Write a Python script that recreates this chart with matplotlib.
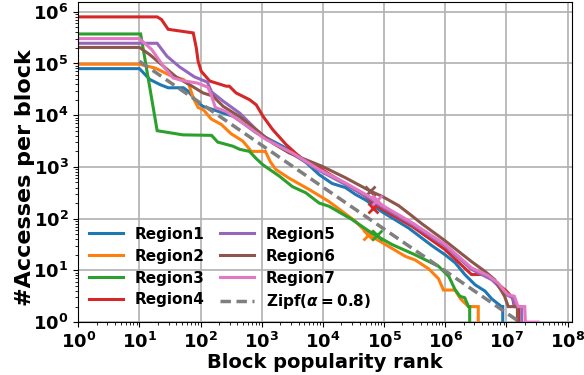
import numpy as np
import matplotlib
matplotlib.use("Agg")
import matplotlib.pyplot as plt

plt.rcParams['font.family'] = ['DejaVu Sans']
plt.rcParams['font.weight'] = 'bold'

# ---- data (log10 rank / log10 count) ----
r1_lr = [0, 1.0, 1.17, 1.34, 1.47, 1.72, 1.80, 1.93, 2.04, 2.20, 2.37, 2.53, 2.69, 2.91, 3.13, 3.34, 3.61, 3.94, 4.15, 4.37, 4.53, 4.70, 4.97, 5.40, 5.78, 6.00, 6.16, 6.32, 6.49, 6.65, 6.76, 6.92, 6.94, 6.94]
r1_lv = [4.90, 4.90, 4.69, 4.59, 4.53, 4.53, 4.46, 4.27, 4.17, 4.11, 4.04, 3.98, 3.85, 3.66, 3.53, 3.40, 3.21, 2.85, 2.68, 2.60, 2.47, 2.36, 2.13, 1.82, 1.48, 1.30, 1.15, 0.92, 0.72, 0.60, 0.45, 0.30, 0.30, 0.0]

r2_lr = [0, 1.0, 1.26, 1.50, 1.72, 1.81, 1.88, 1.96, 2.05, 2.17, 2.34, 2.50, 2.69, 2.83, 3.06, 3.14, 3.23, 3.45, 3.78, 4.10, 4.53, 4.75, 5.08, 5.35, 5.51, 5.73, 5.89, 5.97, 6.16, 6.25, 6.38, 6.54, 6.54]
r2_lv = [4.985, 4.985, 4.91, 4.77, 4.69, 4.59, 4.33, 4.15, 4.10, 3.93, 3.82, 3.64, 3.50, 3.30, 3.30, 3.10, 2.95, 2.78, 2.56, 2.33, 1.95, 1.69, 1.46, 1.27, 1.20, 1.03, 0.84, 0.62, 0.62, 0.45, 0.30, 0.30, 0.0]

r3_lr = [0, 1.02, 1.29, 1.71, 2.18, 2.28, 2.53, 2.64, 2.80, 2.91, 3.02, 3.29, 3.50, 3.72, 3.94, 4.10, 4.48, 4.80, 5.13, 5.51, 5.89, 6.06, 6.16, 6.24, 6.32, 6.38, 6.40, 6.40]
r3_lv = [5.57, 5.57, 3.70, 3.62, 3.61, 3.48, 3.40, 3.34, 3.30, 3.16, 3.04, 2.82, 2.62, 2.50, 2.30, 2.24, 1.98, 1.72, 1.50, 1.30, 1.08, 0.88, 0.63, 0.50, 0.47, 0.30, 0.30, 0.0]

r4_lr = [0, 1.29, 1.36, 1.47, 1.88, 1.93, 1.96, 2.01, 2.15, 2.42, 2.47, 2.58, 2.80, 2.91, 3.02, 3.18, 3.40, 3.67, 3.94, 4.26, 4.70, 4.92, 5.46, 6.00, 6.43, 6.70, 6.85, 7.00, 7.10, 7.13, 7.20, 7.20]
r4_lv = [5.90, 5.90, 5.85, 5.66, 5.59, 5.30, 5.04, 4.85, 4.66, 4.56, 4.56, 4.43, 4.30, 4.20, 3.98, 3.72, 3.43, 3.14, 2.98, 2.75, 2.43, 2.22, 1.85, 1.40, 0.92, 0.92, 0.75, 0.60, 0.47, 0.30, 0.30, 0.0]

r5_lr = [0, 1.0, 1.29, 1.45, 1.66, 1.90, 2.11, 2.18, 2.37, 2.64, 3.02, 3.50, 3.94, 4.37, 4.80, 4.91, 5.46, 6.00, 6.43, 6.76, 6.85, 6.97, 7.10, 7.15, 7.25, 7.25]
r5_lv = [5.39, 5.39, 5.39, 5.14, 4.93, 4.74, 4.64, 4.45, 4.27, 4.04, 3.59, 3.25, 2.93, 2.66, 2.37, 2.27, 1.89, 1.47, 1.02, 0.82, 0.72, 0.55, 0.47, 0.30, 0.30, 0.0]

r6_lr = [0, 1.0, 1.17, 1.39, 1.61, 1.82, 2.04, 2.20, 2.37, 2.64, 2.91, 3.18, 3.45, 3.72, 3.99, 4.37, 4.78, 4.97, 5.24, 5.46, 5.62, 6.00, 6.43, 6.65, 6.81, 6.97, 7.03, 7.18, 7.18]
r6_lv = [5.31, 5.31, 5.17, 4.95, 4.73, 4.59, 4.43, 4.37, 4.17, 3.97, 3.72, 3.46, 3.27, 3.14, 3.01, 2.79, 2.53, 2.43, 2.25, 2.05, 1.90, 1.57, 1.17, 0.98, 0.82, 0.50, 0.30, 0.30, 0.0]

r7_lr = [0, 1.0, 1.20, 1.39, 1.55, 1.70, 1.95, 2.12, 2.18, 2.24, 2.42, 2.69, 2.96, 3.07, 3.50, 3.94, 4.37, 4.80, 4.91, 5.46, 6.00, 6.43, 6.70, 6.86, 6.97, 7.03, 7.13, 7.19, 7.30, 7.31, 7.52]
r7_lv = [5.48, 5.48, 5.27, 4.95, 4.72, 4.67, 4.62, 4.54, 4.37, 4.15, 4.07, 3.85, 3.62, 3.53, 3.27, 2.95, 2.69, 2.40, 2.30, 1.92, 1.50, 1.05, 0.90, 0.76, 0.60, 0.53, 0.50, 0.30, 0.30, 0.0, 0.0]

region_labels = ["Region1", "Region2", "Region3", "Region4", "Region5", "Region6", "Region7"]
region_colors = ["#1f77b4", "#ff7f0e", "#2ca02c", "#d62728", "#9467bd", "#8c564b", "#e377c2"]

# x markers (log10 rank, log10 count), None = not visible
marker_lr = [None, 4.73, 4.89, 4.82, None, 4.77, 4.89]
marker_lv = [None, 1.69, 1.69, 2.21, None, 2.53, 2.36]

zipf_rank = [10, 1.66e7]
zipf_count = [1.1e5, 1.0]
zipf_label = r"Zipf($\alpha=0.8$)"

series_lr = [r1_lr, r2_lr, r3_lr, r4_lr, r5_lr, r6_lr, r7_lr]
series_lv = [r1_lv, r2_lv, r3_lv, r4_lv, r5_lv, r6_lv, r7_lv]

fig = plt.figure(figsize=(5.84, 3.75), dpi=100)
ax = fig.add_axes([0.134, 0.141, 0.845, 0.854])

for lr, lv, lab, col, mlr, mlv in zip(series_lr, series_lv, region_labels, region_colors, marker_lr, marker_lv):
    ax.plot(10 ** np.array(lr), 10 ** np.array(lv), color=col, lw=2.2, label=lab, solid_joinstyle='miter')
    if mlr is not None:
        ax.plot([10 ** mlr], [10 ** mlv], marker='x', color=col, ms=7, mew=2, ls='none')

ax.plot(zipf_rank, zipf_count, ls='--', color='#7f7f7f', lw=2.5, dashes=(3, 1.6), label=zipf_label)

ax.set_xscale('log')
ax.set_yscale('log')
ax.set_xlim(1, 1.17e8)
ax.set_ylim(1, 1.55e6)
ax.set_xticks([10.0 ** k for k in range(0, 9)])
ax.set_yticks([10.0 ** k for k in range(0, 7)])
ax.grid(True, which='major', color='#b0b0b0', lw=1.2)
ax.tick_params(axis='both', which='major', labelsize=13)
for t in ax.get_xticklabels() + ax.get_yticklabels():
    t.set_fontweight('bold')

ax.set_xlabel("Block popularity rank", fontsize=14, fontweight='bold', labelpad=1)
ax.set_ylabel("#Accesses per block", fontsize=16, fontweight='bold')
ax.yaxis.set_label_coords(-0.087, 0.45)

leg = ax.legend(ncol=2, loc='lower left', frameon=False,
                handlelength=2.2, columnspacing=1.0, labelspacing=0.45,
                borderaxespad=0.3, prop={'weight': 'bold', 'size': 11})

fig.savefig("out.png", dpi=100)
